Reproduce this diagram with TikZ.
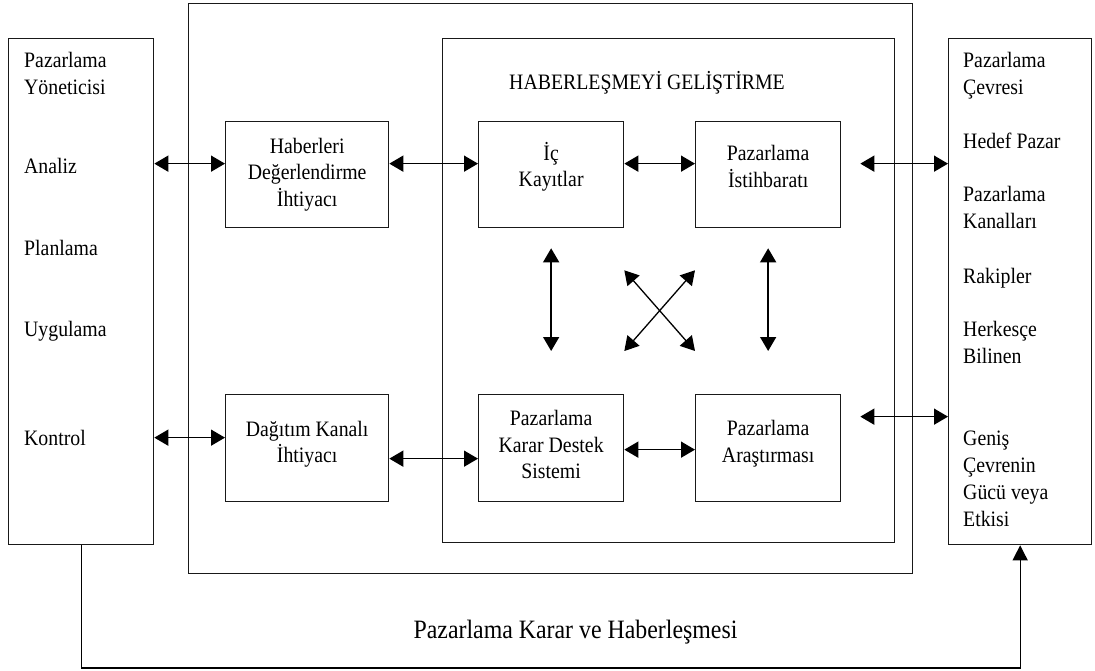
\documentclass[tikz,border=0pt]{standalone}
\usepackage{fontspec}
\setmainfont{Liberation Serif}[FakeStretch=0.9]
\usetikzlibrary{arrows.meta}
\begin{document}
\begin{tikzpicture}[x=1pt,y=-1pt,
  frame/.style={draw=black!90, line width=1.3pt, anchor=north west, inner sep=0pt},
  txt/.style={font=\fontsize{22}{26.5}\selectfont, align=center, inner sep=0pt},
  sidetxt/.style={font=\fontsize{22}{27}\selectfont, align=left, anchor=base west, inner sep=0pt},
  link/.style={line width=1.5pt, {Triangle[length=14pt,width=16pt]}-{Triangle[length=14pt,width=16pt]}},
  tie/.style={line width=1.3pt},
]
\useasboundingbox (0,0) rectangle (1095,671);

% frames
\node[frame, minimum width=724pt, minimum height=570pt] (outer) at (188,3) {};
\node[frame, minimum width=452pt, minimum height=504pt] (inner) at (442,38) {};
\node[frame, minimum width=145pt, minimum height=506pt] (lbox) at (8,38) {};
\node[frame, minimum width=143pt, minimum height=506pt] (rbox) at (948,38) {};

% inner boxes
\node[frame, minimum width=163pt, minimum height=106pt,
  label={[txt]center:{Haberleri\\Değerlendirme\\İhtiyacı}}] (hab) at (225,121) {};
\node[frame, minimum width=145pt, minimum height=106pt,
  label={[txt,yshift=8pt]center:{İç\\Kayıtlar}}] (ic) at (478,121) {};
\node[frame, minimum width=145pt, minimum height=106pt,
  label={[txt,yshift=8pt]center:{Pazarlama\\İstihbaratı}}] (ist) at (695,121) {};
\node[frame, minimum width=163pt, minimum height=107pt,
  label={[txt,yshift=4pt]center:{Dağıtım Kanalı\\İhtiyacı}}] (dag) at (225,394) {};
\node[frame, minimum width=145pt, minimum height=107pt,
  label={[txt,yshift=3.5pt]center:{Pazarlama\\Karar Destek\\Sistemi}}] (kds) at (478,394) {};
\node[frame, minimum width=145pt, minimum height=107pt,
  label={[txt,yshift=4.5pt]center:{Pazarlama\\Araştırması}}] (ars) at (695,394) {};

% titles
\node[font=\fontsize{22}{26}\selectfont, anchor=base, inner sep=0pt] (title) at (647,90) {HABERLEŞMEYİ GELİŞTİRME};
\node[font=\fontsize{26.5}{30}\selectfont, anchor=base, inner sep=0pt] (fbtxt) at (575.5,638) {Pazarlama Karar ve Haberleşmesi};

% left column (multi-line entries sit on their last baseline)
\node[sidetxt] (l1) at (24,95) {Pazarlama\\Yöneticisi};
\node[sidetxt] (l2) at (24,174) {Analiz};
\node[sidetxt] (l3) at (24,255) {Planlama};
\node[sidetxt] (l4) at (24,336) {Uygulama};
\node[sidetxt] (l5) at (24,445) {Kontrol};

% right column
\node[sidetxt] (r1) at (963,95) {Pazarlama\\Çevresi};
\node[sidetxt] (r2) at (963,149) {Hedef Pazar};
\node[sidetxt] (r3) at (963,229) {Pazarlama\\Kanalları};
\node[sidetxt] (r4) at (963,283) {Rakipler};
\node[sidetxt] (r5) at (963,363) {Herkesçe\\Bilinen};
\node[sidetxt] (r6) at (963,526) {Geniş\\Çevrenin\\Gücü veya\\Etkisi};

% horizontal links, upper row
\coordinate (habin) at ([yshift=11pt]hab.west);
\draw[link] (habin -| lbox.east) -- (habin);
\draw[link] ([yshift=11pt]hab.east) -- ([yshift=11pt]ic.west);
\draw[link] ([yshift=11pt]ic.east) -- ([yshift=11pt]ist.west);
\coordinate (istout) at ([xshift=19pt,yshift=11pt]ist.east);
\draw[link] (istout) -- (istout -| rbox.west);

% horizontal links, lower row
\coordinate (dagin) at ([yshift=10.5pt]dag.west);
\draw[link] (dagin -| lbox.east) -- (dagin);
\draw[link] ([yshift=-10.5pt]dag.east) -- ([yshift=-10.5pt]kds.west);
\draw[link] ([yshift=-1.5pt]kds.east) -- ([yshift=-1.5pt]ars.west);
\coordinate (arsout) at ([xshift=19pt,yshift=31.5pt]ars.east);
\draw[link] (arsout) -- (arsout -| rbox.west);

% vertical and crossing links
\draw[link] ([yshift=-20pt]ic.south) -- ([yshift=43pt]kds.north);
\draw[link] ([yshift=-20pt]ist.south) -- ([yshift=43pt]ars.north);
\draw[link, line width=1.3pt] ([yshift=-42pt]ic.south east) -- ([yshift=43pt]ars.north west);
\draw[link, line width=1.3pt] ([yshift=-42pt]ist.south west) -- ([yshift=43pt]kds.north east);

% feedback loop
\coordinate (fb) at (0,668);
\draw[tie, -{Triangle[length=15pt,width=15pt]}] (lbox.south) -- (lbox.south |- fb) -| (rbox.south);
\end{tikzpicture}
\end{document}
